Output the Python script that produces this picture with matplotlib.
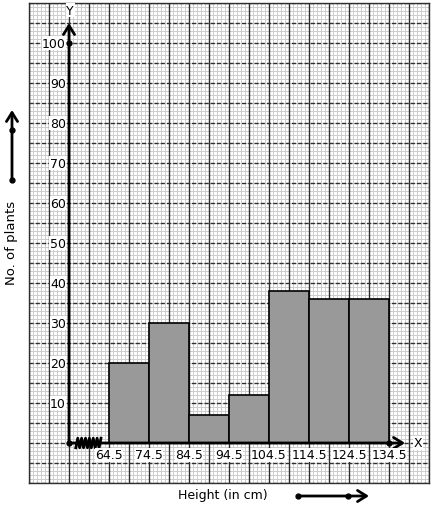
import matplotlib
matplotlib.use('Agg')
import matplotlib.pyplot as plt
import numpy as np

# class boundaries and frequencies
edges = [64.5, 74.5, 84.5, 94.5, 104.5, 114.5, 124.5, 134.5]
counts = [20, 30, 7, 12, 38, 36, 36]
y_ticks = [10, 20, 30, 40, 50, 60, 70, 80, 90, 100]

origin_x = 54.5
head = '->,head_length=0.8,head_width=0.5'

fig = plt.figure(figsize=(4.34, 5.10), dpi=100)
ax = fig.add_axes([29 / 434, 26 / 510, 400 / 434, 480 / 510])
ax.set_xlim(44.5, 144.5)
ax.set_ylim(-10, 110)

# graph paper
for x in np.arange(44.5, 144.6, 1):
    ax.axvline(x, color='#cdcdcd', lw=0.7, zorder=0)
for y in np.arange(-10, 110.1, 1):
    ax.axhline(y, color='#cdcdcd', lw=0.7, zorder=0)
for x in np.arange(44.5, 144.6, 5):
    ax.axvline(x, color='#2e2e2e', lw=1.0, zorder=1)
for y in np.arange(-10, 110.1, 5):
    ax.axhline(y, color='#2e2e2e', lw=1.0, ls=(0, (3, 1.5)), zorder=1)

# histogram bars
widths = np.diff(edges)
ax.bar(edges[:-1], counts, width=widths, align='edge', color='#999999',
       edgecolor='black', linewidth=1.2, zorder=3)

# axes
ax.annotate('', xy=(origin_x, 105), xytext=(origin_x, 0),
            arrowprops=dict(arrowstyle=head, lw=2, color='black',
                            mutation_scale=8, shrinkA=0, shrinkB=0), zorder=5)
ax.annotate('', xy=(138.5, 0), xytext=(origin_x, 0),
            arrowprops=dict(arrowstyle=head, lw=2, color='black',
                            mutation_scale=8, shrinkA=0, shrinkB=0), zorder=5)
ax.plot([origin_x, origin_x, edges[-1]], [0, 100, 0], 'ko', ms=3.5, zorder=6)

# kink on x axis
zx = np.linspace(56.2, 62.5, 14)
zy = np.array([1.2 if i % 2 else -1.2 for i in range(14)])
ax.plot(zx, zy, color='black', lw=2, zorder=6)

ax.text(141.8, 0, 'X', ha='center', va='center', fontsize=9, zorder=7,
        bbox=dict(facecolor='white', edgecolor='none', pad=0.5))
ax.text(origin_x + 0.3, 108.2, 'Y', ha='center', va='center', fontsize=9, zorder=7,
        bbox=dict(facecolor='white', edgecolor='none', pad=0.5))

for v in y_ticks:
    ax.text(origin_x - 0.8, v, str(v), ha='right', va='center', fontsize=9, zorder=7,
            bbox=dict(facecolor='white', edgecolor='none', pad=0.3))
for e in edges:
    ax.text(e, -3, str(e), ha='center', va='center', fontsize=9, zorder=7,
            bbox=dict(facecolor='white', edgecolor='none', pad=0.3))

ax.set_xticks([])
ax.set_yticks([])
for s in ax.spines.values():
    s.set_color('#2e2e2e')
    s.set_linewidth(1.0)

# outside labels and arrows
fig.text(12 / 434, 1 - 243 / 510, 'No. of plants', rotation=90, ha='center',
         va='center', fontsize=9.5)
fig.text(223 / 434, 1 - 496 / 510, 'Height (in cm)', ha='center', va='center',
         fontsize=9)
fig.patches.append(matplotlib.patches.FancyArrowPatch(
    (12 / 434, 1 - 181 / 510), (12 / 434, 1 - 111 / 510), transform=fig.transFigure,
    arrowstyle=head, lw=2, color='black', mutation_scale=8, shrinkA=0, shrinkB=0))
fig.patches.append(matplotlib.patches.FancyArrowPatch(
    (298 / 434, 1 - 497 / 510), (369 / 434, 1 - 497 / 510), transform=fig.transFigure,
    arrowstyle=head, lw=2, color='black', mutation_scale=8, shrinkA=0, shrinkB=0))
fig.lines.append(matplotlib.lines.Line2D(
    [12 / 434, 12 / 434], [1 - 181 / 510, 1 - 131 / 510], transform=fig.transFigure,
    ls='none', marker='o', ms=3.5, color='black'))
fig.lines.append(matplotlib.lines.Line2D(
    [298 / 434, 348 / 434], [1 - 497 / 510, 1 - 497 / 510], transform=fig.transFigure,
    ls='none', marker='o', ms=3.5, color='black'))

fig.savefig('out.png', dpi=100)
